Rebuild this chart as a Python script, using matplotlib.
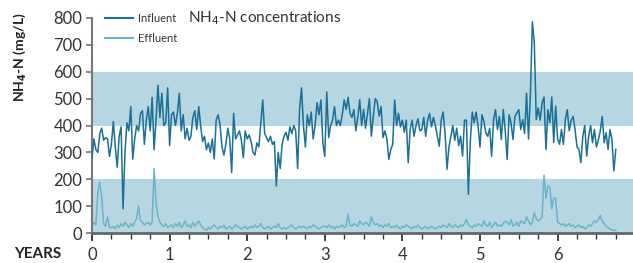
import numpy as np
import matplotlib
matplotlib.use("Agg")
import matplotlib.pyplot as plt
from matplotlib.lines import Line2D

# sampling step of the series, in years
step_years = 0.025

influent = [
    280, 350, 310, 300, 370, 390, 345, 355, 350, 285,
    330, 415, 320, 245, 360, 395, 90, 300, 410, 380,
    470, 275, 350, 400, 380, 445, 455, 330, 420, 470,
    380, 505, 310, 420, 550, 430, 520, 400, 410, 540,
    325, 440, 450, 400, 445, 520, 380, 440, 350, 390,
    345, 360, 430, 455, 385, 470, 400, 340, 360, 310,
    335, 300, 350, 275, 420, 440, 404, 320, 290, 330,
    390, 350, 225, 445, 350, 365, 380, 345, 280, 380,
    350, 365, 340, 300, 290, 335, 320, 410, 495, 370,
    355, 340, 360, 330, 340, 175, 300, 240, 330, 360,
    375, 345, 395, 370, 400, 380, 240, 460, 540, 400,
    320, 440, 400, 450, 350, 400, 485, 440, 495, 335,
    285, 525, 355, 400, 420, 470, 400, 420, 400, 440,
    495, 460, 505, 445, 430, 459, 380, 430, 496, 400,
    460, 390, 445, 500, 360, 435, 500, 490, 435, 470,
    355, 380, 350, 274, 310, 330, 495, 400, 445, 395,
    420, 375, 420, 262, 385, 420, 360, 400, 425, 380,
    385, 430, 360, 420, 445, 395, 430, 400, 360, 323,
    420, 450, 370, 237, 320, 360, 400, 345, 390, 325,
    360, 286, 420, 420, 144, 340, 450, 410, 450, 400,
    320, 440, 415, 373, 360, 390, 286, 422, 459, 385,
    434, 348, 459, 380, 274, 440, 410, 348, 434, 447,
    459, 385, 422, 370, 520, 350, 520, 786, 706, 422,
    465, 420, 484, 506, 311, 459, 410, 506, 336, 472,
    350, 330, 385, 330, 422, 459, 380, 420, 434, 385,
    320, 311, 262, 360, 400, 286, 360, 400, 336, 385,
    320, 345, 380, 434, 336, 373, 311, 385, 348, 231,
    311,
]

effluent = [
    25, 40, 30, 150, 190, 130, 35, 25, 60, 20,
    20, 25, 15, 30, 20, 35, 25, 40, 30, 20,
    35, 25, 40, 55, 100, 45, 40, 30, 35, 40,
    30, 40, 240, 110, 60, 40, 30, 25, 35, 20,
    25, 30, 20, 35, 25, 40, 20, 30, 45, 25,
    30, 20, 40, 25, 35, 45, 30, 20, 15, 10,
    20, 15, 25, 30, 20, 15, 25, 20, 30, 15,
    20, 25, 15, 20, 30, 25, 20, 15, 20, 25,
    15, 20, 25, 20, 30, 20, 25, 35, 20, 15,
    20, 25, 15, 20, 25, 20, 35, 20, 15, 20,
    15, 20, 25, 30, 20, 15, 20, 25, 20, 25,
    20, 15, 25, 20, 30, 25, 20, 15, 20, 25,
    25, 20, 30, 20, 25, 15, 25, 20, 25, 30,
    20, 25, 70, 30, 25, 35, 30, 25, 45, 35,
    30, 40, 35, 25, 60, 40, 30, 35, 25, 30,
    20, 30, 25, 35, 20, 25, 20, 30, 20, 15,
    25, 20, 30, 25, 20, 15, 25, 20, 30, 20,
    15, 20, 25, 15, 20, 25, 20, 15, 20, 25,
    20, 30, 25, 20, 35, 25, 20, 30, 25, 20,
    30, 25, 35, 50, 30, 25, 20, 30, 25, 35,
    30, 25, 45, 30, 25, 40, 20, 30, 40, 25,
    30, 25, 35, 45, 40, 30, 50, 25, 30, 40,
    25, 45, 40, 35, 60, 45, 30, 40, 75, 55,
    45, 50, 60, 215, 130, 175, 170, 90, 130, 130,
    40, 35, 30, 35, 25, 30, 35, 25, 30, 20,
    25, 30, 20, 25, 15, 20, 30, 25, 35, 45,
    40, 50, 65, 45, 35, 25, 20, 15, 12, 10,
    10,
]

bands = [(0, 200), (400, 600)]
y_ticks = [0, 100, 200, 300, 400, 500, 600, 700, 800]
x_ticks = [0, 1, 2, 3, 4, 5, 6]
series_labels = ["Influent", "Effluent"]

c_in = "#1a7096"
c_eff = "#6cb4ca"
c_band = "#b6d7e1"

plt.rcParams['font.family'] = ['Lato', 'DejaVu Sans']

fig = plt.figure(figsize=(6.33, 2.63), dpi=100)
ax = fig.add_axes([92/633, 30/263, 541/633, 215/263])

years_in = np.arange(len(influent)) * step_years
years_eff = np.arange(len(effluent)) * step_years

for lo, hi in bands:
    ax.axhspan(lo, hi, color=c_band, lw=0, zorder=0)

ax.plot(years_eff, effluent, color=c_eff, lw=1.1, zorder=2)
ax.plot(years_in, influent, color=c_in, lw=1.1, zorder=3)

ax.set_xlim(0, 541/77.6)
ax.set_ylim(0, 800)
ax.set_yticks(y_ticks)
ax.set_xticks(x_ticks)
ax.set_xticks(np.arange(0, 6.8, 0.25), minor=True)
ax.tick_params(axis='y', labelsize=12, colors='#777777', labelcolor='#333333', length=4, width=1.2, pad=3)
ax.tick_params(axis='x', which='major', labelsize=12, colors='#333333', labelcolor='#333333', length=6, width=1.3, pad=4)
ax.tick_params(axis='x', which='minor', colors='#333333', length=4, width=1.0)

for s in ['top', 'right']:
    ax.spines[s].set_visible(False)
ax.spines['left'].set_color('#777777')
ax.spines['left'].set_linewidth(1.5)
ax.spines['bottom'].set_color('#666666')
ax.spines['bottom'].set_linewidth(2.0)

fig.text(14/633, 1 - 254/263, "YEARS", fontsize=11, fontweight='bold', color='#222222',
         ha='left', va='center')
fig.text(20/633, 1 - 57/263, "NH$_\\mathbf{4}$-N (mg/L)", fontsize=10, fontweight='bold',
         color='#222222', rotation=90, ha='center', va='center')

handles = [Line2D([], [], color=c_in, lw=1.5), Line2D([], [], color=c_eff, lw=1.5)]
leg = ax.legend(handles, series_labels, loc='upper left', bbox_to_anchor=(0.024, 1.025),
                frameon=False, fontsize=8, handlelength=2.5, handletextpad=0.45,
                labelspacing=0.85, borderaxespad=0, borderpad=0)
for t in leg.get_texts():
    t.set_color('#333333')

ax.text((188 - 92) / 541, 1.0, "NH$_4$-N concentrations",
        transform=ax.transAxes, fontsize=11, color='#333333', ha='left', va='center')

fig.savefig("out.png", dpi=100)
